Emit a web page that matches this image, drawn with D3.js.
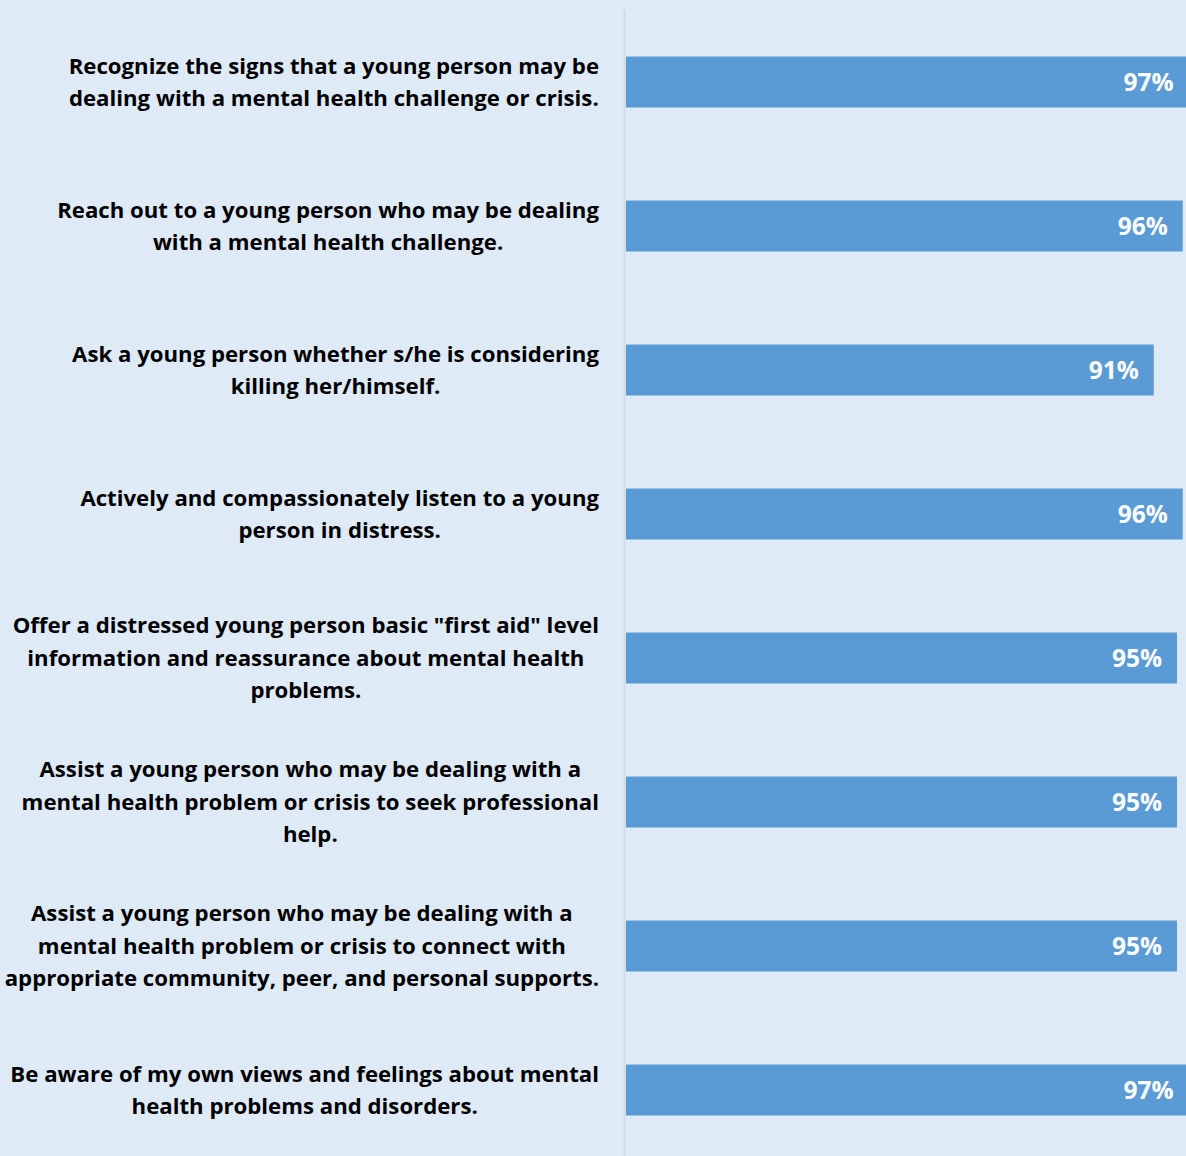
<!DOCTYPE html>
<html><head><meta charset="utf-8">
<script src="https://cdn.jsdelivr.net/npm/d3@7"></script>
<style>
html,body{margin:0;padding:0;background:#deeaf6;overflow:hidden;}
svg{display:block;}
</style></head>
<body>
<script>
const categories = [
  "Recognize the signs that a young person may be\ndealing with a mental health challenge or crisis.",
  "Reach out to a young person who may be dealing\nwith a mental health challenge.",
  "Ask a young person whether s/he is considering\nkilling her/himself.",
  "Actively and compassionately listen to a young\nperson in distress.",
  "Offer a distressed young person basic \"first aid\" level\ninformation and reassurance about mental health\nproblems.",
  "Assist a young person who may be dealing with a\nmental health problem or crisis to seek professional\nhelp.",
  "Assist a young person who may be dealing with a\nmental health problem or crisis to connect with\nappropriate community, peer, and personal supports.",
  "Be aware of my own views and feelings about mental\nhealth problems and disorders."
];
const values = [97, 96, 91, 96, 95, 95, 95, 97];
const valueLabels = ["97%", "96%", "91%", "96%", "95%", "95%", "95%", "97%"];

const W = 1186, H = 1156;
const FONT = "'Open Sans', 'Noto Sans', sans-serif";
const svg = d3.select("body").append("svg").attr("width", W).attr("height", H);
svg.append("rect").attr("width", W).attr("height", H).attr("fill", "#deeaf6");

const x = d3.scaleLinear().domain([0, 100]).range([626, 1206]);
const y = d3.scaleBand().domain(d3.range(categories.length)).range([10, 1162])
  .paddingInner(0.646).paddingOuter(0.323);

// axis line
svg.append("line").attr("x1", x(0) - 1.5).attr("x2", x(0) - 1.5)
  .attr("y1", 10).attr("y2", H).attr("stroke", "#d5d9de").attr("stroke-width", 2);

svg.selectAll("rect.bar").data(values).join("rect").attr("class", "bar")
  .attr("x", x(0)).attr("y", (d, i) => y(i))
  .attr("width", d => x(d) - x(0)).attr("height", y.bandwidth())
  .attr("fill", "#5b9bd5");

svg.selectAll("text.val").data(values).join("text").attr("class", "val")
  .attr("x", d => x(d) - 15).attr("y", (d, i) => y(i) + y.bandwidth() / 2)
  .attr("dy", "0.36em").attr("text-anchor", "end")
  .attr("fill", "#ffffff").attr("font-family", FONT)
  .attr("font-weight", "bold").attr("font-size", 24.5)
  .text((d, i) => valueLabels[i]);

const lineH = 32.5;
categories.forEach((c, i) => {
  const lines = c.split("\n");
  const g = svg.append("text")
    .attr("font-family", FONT)
    .attr("font-weight", "bold").attr("font-size", 22.2).attr("fill", "#000")
    .attr("text-anchor", "middle");
  const cy = y(i) + y.bandwidth() / 2;
  const tsp = lines.map((l, k) => g.append("tspan")
    .attr("y", cy + (k - (lines.length - 1) / 2) * lineH).attr("dy", "0.35em").text(l));
  const maxW = d3.max(tsp, t => t.node().getComputedTextLength());
  tsp.forEach(t => t.attr("x", 599 - maxW / 2));
});
</script>
</body></html>
